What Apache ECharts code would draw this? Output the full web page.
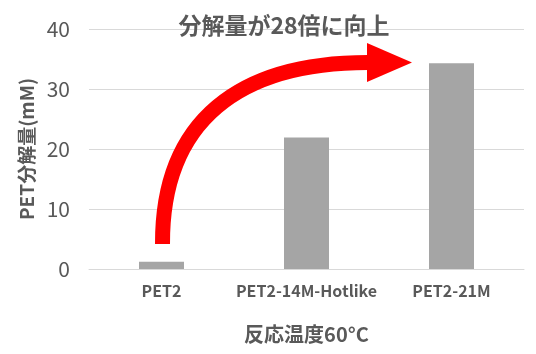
<!DOCTYPE html>
<html>
<head>
<meta charset="utf-8">
<script src="https://cdn.jsdelivr.net/npm/echarts@6/dist/echarts.min.js"></script>
<style>html,body{margin:0;padding:0;background:#fff}#c{width:536px;height:354px}</style>
</head>
<body>
<div id="c"></div>
<script>
const categories = ['PET2', 'PET2-14M-Hotlike', 'PET2-21M'];
const values = [1.2, 21.9, 34.3];
const titleText = '分解量が28倍に向上';
const xName = '反応温度60°C';
const yName = 'PET分解量(mM)';

const FONT = '"Noto Sans CJK JP", "Noto Sans", sans-serif';
const chart = echarts.init(document.getElementById('c'), null, {renderer: 'canvas'});
chart.setOption({
  animation: false,
  title: {
    text: titleText, left: 279, top: 9, textAlign: 'center',
    textStyle: {fontFamily: FONT, fontSize: 23, fontWeight: 'bold', color: '#595959'}
  },
  grid: {left: 89, right: 12, top: 29, bottom: 85},
  xAxis: {
    type: 'category', data: categories,
    axisLine: {lineStyle: {color: '#d9d9d9', width: 1}},
    axisTick: {show: false},
    axisLabel: {fontFamily: FONT, fontSize: 16, fontWeight: 'bold', color: '#595959', margin: 14, interval: 0},
    name: xName, nameLocation: 'middle', nameGap: 55,
    nameTextStyle: {fontFamily: FONT, fontSize: 20, fontWeight: 'bold', color: '#595959'}
  },
  yAxis: {
    type: 'value', min: 0, max: 40, interval: 10,
    axisLine: {show: false}, axisTick: {show: false},
    splitLine: {lineStyle: {color: '#d9d9d9', width: 1}},
    axisLabel: {fontFamily: FONT, fontSize: 21, color: '#595959', margin: 19},
    name: yName, nameLocation: 'middle', nameGap: 51,
    nameTextStyle: {fontFamily: FONT, fontSize: 19, fontWeight: 'bold', color: '#595959'}
  },
  series: [{
    type: 'bar', data: values, barWidth: 45,
    itemStyle: {color: '#a5a5a5'}
  }],
  graphic: [
    {type: 'bezierCurve', shape: {x1: 162.5, y1: 244, cpx1: 162, cpy1: 120, cpx2: 240, cpy2: 62.5, x2: 368, y2: 62.5},
     style: {stroke: '#ff0000', lineWidth: 15, fill: null, lineCap: 'butt'}, z: 10},
    {type: 'polygon', shape: {points: [[367, 43], [412, 62.5], [367, 82]]},
     style: {fill: '#ff0000'}, z: 10}
  ]
});
</script>
</body>
</html>
